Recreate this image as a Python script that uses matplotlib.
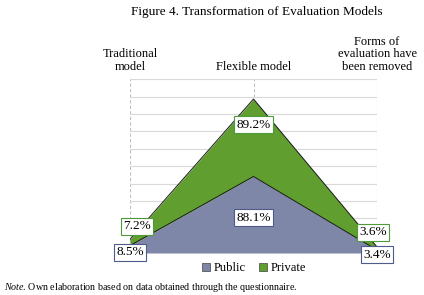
import matplotlib
matplotlib.use("Agg")
import matplotlib.pyplot as plt
from matplotlib.patches import Patch
import numpy as np

plt.rcParams["font.family"] = ["Liberation Serif", "DejaVu Serif"]
plt.rcParams["mathtext.fontset"] = "custom"
plt.rcParams["mathtext.rm"] = "Liberation Serif"
plt.rcParams["mathtext.it"] = "Liberation Serif:italic"

# --- DATA ---
categories = ["Traditional\nmodel", "Flexible model", "Forms of\nevaluation have\nbeen removed"]
public = [8.5, 88.1, 3.4]
private = [7.2, 89.2, 3.6]
series_names = ["Public", "Private"]

PUBLIC_COLOR = "#7F87A8"
PRIVATE_COLOR = "#5F9E2F"
PUBLIC_EDGE = "#4F5B8A"
PRIVATE_EDGE = "#4E9A3A"

fig = plt.figure(figsize=(4.24, 2.95), dpi=100)
fig.patch.set_facecolor("white")
ax = fig.add_axes([130 / 424, 1 - 253 / 295, 247 / 424, (253 - 79.3) / 295])

x = np.arange(len(categories))
pub = np.array(public)
pri = np.array(private)
top = pub + pri

ax.fill_between(x, 0, pub, color=PUBLIC_COLOR, lw=0, zorder=2)
ax.fill_between(x, pub, top, color=PRIVATE_COLOR, lw=0, zorder=2)
ax.plot(x, pub, color="#1a1a1a", lw=0.7, zorder=3)
ax.plot(x, top, color="#1a1a1a", lw=0.7, zorder=3)

ax.set_xlim(0, len(categories) - 1)
ax.set_ylim(0, 200)
ax.set_yticks(np.arange(0, 201, 20))
ax.yaxis.grid(True, color="#d9d9d9", lw=0.8, zorder=0)
for xi in x:
    ax.axvline(xi, color="#bfbfbf", lw=0.8, ls=(0, (3, 2)), zorder=1)
ax.tick_params(left=False, bottom=False, labelleft=False, labelbottom=False)
for s in ax.spines.values():
    s.set_visible(False)

# category labels above the plot
for xi, lab in zip(x, categories):
    ax.annotate(lab, (xi, 200), xytext=(0, 6), textcoords="offset pixels",
                ha="center", va="bottom", fontsize=9, linespacing=1.1,
                annotation_clip=False)

# data labels
pub_off = [(0, -3), (0, -3), (0, -3)]
pri_off = [(7, 16), (0, 13), (-4, 16)]
for i in range(len(categories)):
    ax.annotate(f"{public[i]}%", (x[i], pub[i] / 2), xytext=pub_off[i],
                textcoords="offset pixels", ha="center", va="center", fontsize=9.5,
                bbox=dict(boxstyle="square,pad=0.18", fc="white", ec=PUBLIC_EDGE, lw=0.8),
                zorder=5, annotation_clip=False)
    ax.annotate(f"{private[i]}%", (x[i], pub[i] + pri[i] / 2), xytext=pri_off[i],
                textcoords="offset pixels", ha="center", va="center", fontsize=9.5,
                bbox=dict(boxstyle="square,pad=0.18", fc="white", ec=PRIVATE_EDGE, lw=0.8),
                zorder=5, annotation_clip=False)

handles = [Patch(facecolor=PUBLIC_COLOR, edgecolor="#404040", lw=0.5),
           Patch(facecolor=PRIVATE_COLOR, edgecolor="#404040", lw=0.5)]
fig.legend(handles, series_names, loc="center", bbox_to_anchor=(254 / 424, 1 - 268 / 295),
           ncol=2, frameon=False, fontsize=9, handlelength=0.6, handleheight=0.6,
           handletextpad=0.3, columnspacing=1.1, borderpad=0)

fig.text(257 / 424, 1 - 12 / 295, "Figure 4. Transformation of Evaluation Models",
         ha="center", va="center", fontsize=9.5)
fig.text(4 / 424, 1 - 287 / 295,
         r"$\it{Note}$. Own elaboration based on data obtained through the questionnaire.",
         ha="left", va="center", fontsize=7.2)

fig.savefig("out.png", dpi=100, facecolor="white")
